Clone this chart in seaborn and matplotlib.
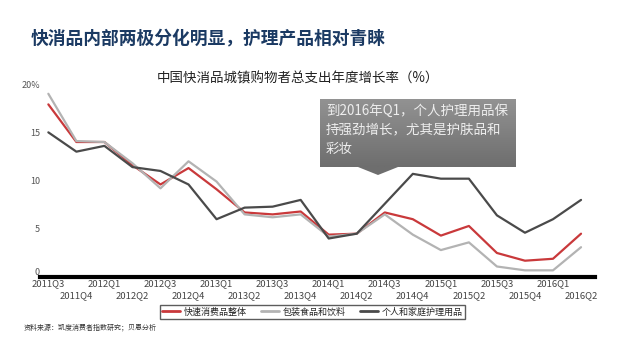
import numpy as np
import pandas as pd
import matplotlib
matplotlib.use("Agg")
import matplotlib.pyplot as plt
from matplotlib.patches import Polygon
import seaborn as sns

quarters = ["2011Q3", "2011Q4", "2012Q1", "2012Q2", "2012Q3", "2012Q4",
            "2013Q1", "2013Q2", "2013Q3", "2013Q4", "2014Q1", "2014Q2",
            "2014Q3", "2014Q4", "2015Q1", "2015Q2", "2015Q3", "2015Q4",
            "2016Q1", "2016Q2"]

fmcg_total = [17.9, 14.0, 14.0, 11.6, 9.6, 11.3, 9.1, 6.7, 6.5, 6.8,
              4.4, 4.5, 6.7, 6.0, 4.3, 5.3, 2.5, 1.7, 1.9, 4.5]
packaged_food = [19.0, 14.1, 14.0, 11.8, 9.2, 12.0, 9.9, 6.5, 6.2, 6.5,
                 4.2, 4.5, 6.5, 4.4, 2.8, 3.6, 1.1, 0.7, 0.7, 3.1]
personal_care = [15.0, 13.0, 13.6, 11.4, 11.0, 9.6, 6.0, 7.2, 7.3, 8.0,
                 4.0, 4.5, 7.6, 10.7, 10.2, 10.2, 6.4, 4.6, 6.0, 8.0]

series_names = ["快速消费品整体", "包装食品和饮料", "个人和家庭护理用品"]
series_colors = ["#c9393b", "#b3b3b3", "#4a4a4a"]
y_ticks = [0, 5, 10, 15, 20]
y_tick_labels = ["0", "5", "10", "15", "20%"]

title = "快消品内部两极分化明显，护理产品相对青睐"
subtitle = "中国快消品城镇购物者总支出年度增长率（%）"
callout = "到2016年Q1，个人护理用品保\n持强劲增长，尤其是护肤品和\n彩妆"
source = "资料来源：凯度消费者指数研究；贝恩分析"

sns.set_theme(style="white")
plt.rcParams["font.family"] = ["Noto Sans CJK SC", "DejaVu Sans"]

rows = []
for name, vals in zip(series_names, [fmcg_total, packaged_food, personal_care]):
    for i, v in enumerate(vals):
        rows.append({"idx": i, "quarter": quarters[i], "value": v, "series": name})
df = pd.DataFrame(rows)

fig = plt.figure(figsize=(6.44, 3.49), dpi=100)
ax = fig.add_axes([0.062, 0.206, 0.862, 0.553])

sns.lineplot(data=df, x="idx", y="value", hue="series", hue_order=series_names,
             palette=dict(zip(series_names, series_colors)), linewidth=1.6,
             ax=ax, legend=False)

ax.set_xlim(-0.3, 19.5)
ax.set_ylim(0, 20)
ax.set_xlabel("")
ax.set_ylabel("")
for s in ["top", "right", "left"]:
    ax.spines[s].set_visible(False)
ax.spines["bottom"].set_linewidth(3)
ax.spines["bottom"].set_color("black")
ax.spines["bottom"].set_zorder(5)

ax.set_yticks(y_ticks)
ax.set_yticklabels(y_tick_labels, fontsize=6.5, color="#555555")
for lbl in ax.get_yticklabels()[:1]:
    lbl.set_verticalalignment("bottom")

# quarter labels staggered on two rows: even positions on top, odd below
idx = list(range(len(quarters)))
ax.set_xticks(idx[0::2])
ax.set_xticklabels(quarters[0::2], fontsize=6.8, color="#444444")
ax.set_xticks(idx[1::2], minor=True)
ax.set_xticklabels(quarters[1::2], minor=True, fontsize=6.8, color="#444444")
ax.tick_params(axis="x", which="major", length=0, pad=1.5)
ax.tick_params(axis="x", which="minor", length=0, pad=10)
ax.tick_params(axis="y", length=0, pad=0)

# legend
handles = [plt.Line2D([], [], color=c, lw=2) for c in series_colors]
leg = fig.legend(handles, series_names, loc="center", bbox_to_anchor=(0.485, 0.106),
                 ncol=3, fontsize=6.5, frameon=True, fancybox=False,
                 handlelength=2.0, handletextpad=0.4, columnspacing=1.6,
                 borderpad=0.25, edgecolor="#333333")
leg.get_frame().set_linewidth(1.0)

# titles and source
fig.text(0.047, 0.891, title, fontsize=12.8, fontweight="bold", color="#1b3a63",
         ha="left", va="center")
fig.text(0.462, 0.776, subtitle, fontsize=9.7, color="#222222", ha="center", va="center")
fig.text(0.037, 0.063, source, fontsize=5, color="#333333", ha="left", va="center")

# gray callout box with a pointer
bx0, bx1 = 320 / 644, 516 / 644
by0, by1 = 1 - 167 / 349, 1 - 99 / 349
cax = fig.add_axes([bx0, by0, bx1 - bx0, by1 - by0])
grad = np.linspace(0, 1, 64).reshape(-1, 1)
cmap = matplotlib.colors.LinearSegmentedColormap.from_list("g", ["#929292", "#6e6e6e"])
cax.imshow(grad, aspect="auto", cmap=cmap, extent=[0, 1, 0, 1], origin="upper")
cax.set_axis_off()
cax.text(0.03, 0.93, callout, fontsize=9.7, color="#eeeeee", ha="left", va="top",
         linespacing=1.45, transform=cax.transAxes)
tri = Polygon([[358 / 644, by0], [398 / 644, by0], [378 / 644, 1 - 175 / 349]],
              closed=True, transform=fig.transFigure, facecolor="#6e6e6e",
              edgecolor="none")
fig.patches.append(tri)

fig.savefig("out.png", dpi=100)
